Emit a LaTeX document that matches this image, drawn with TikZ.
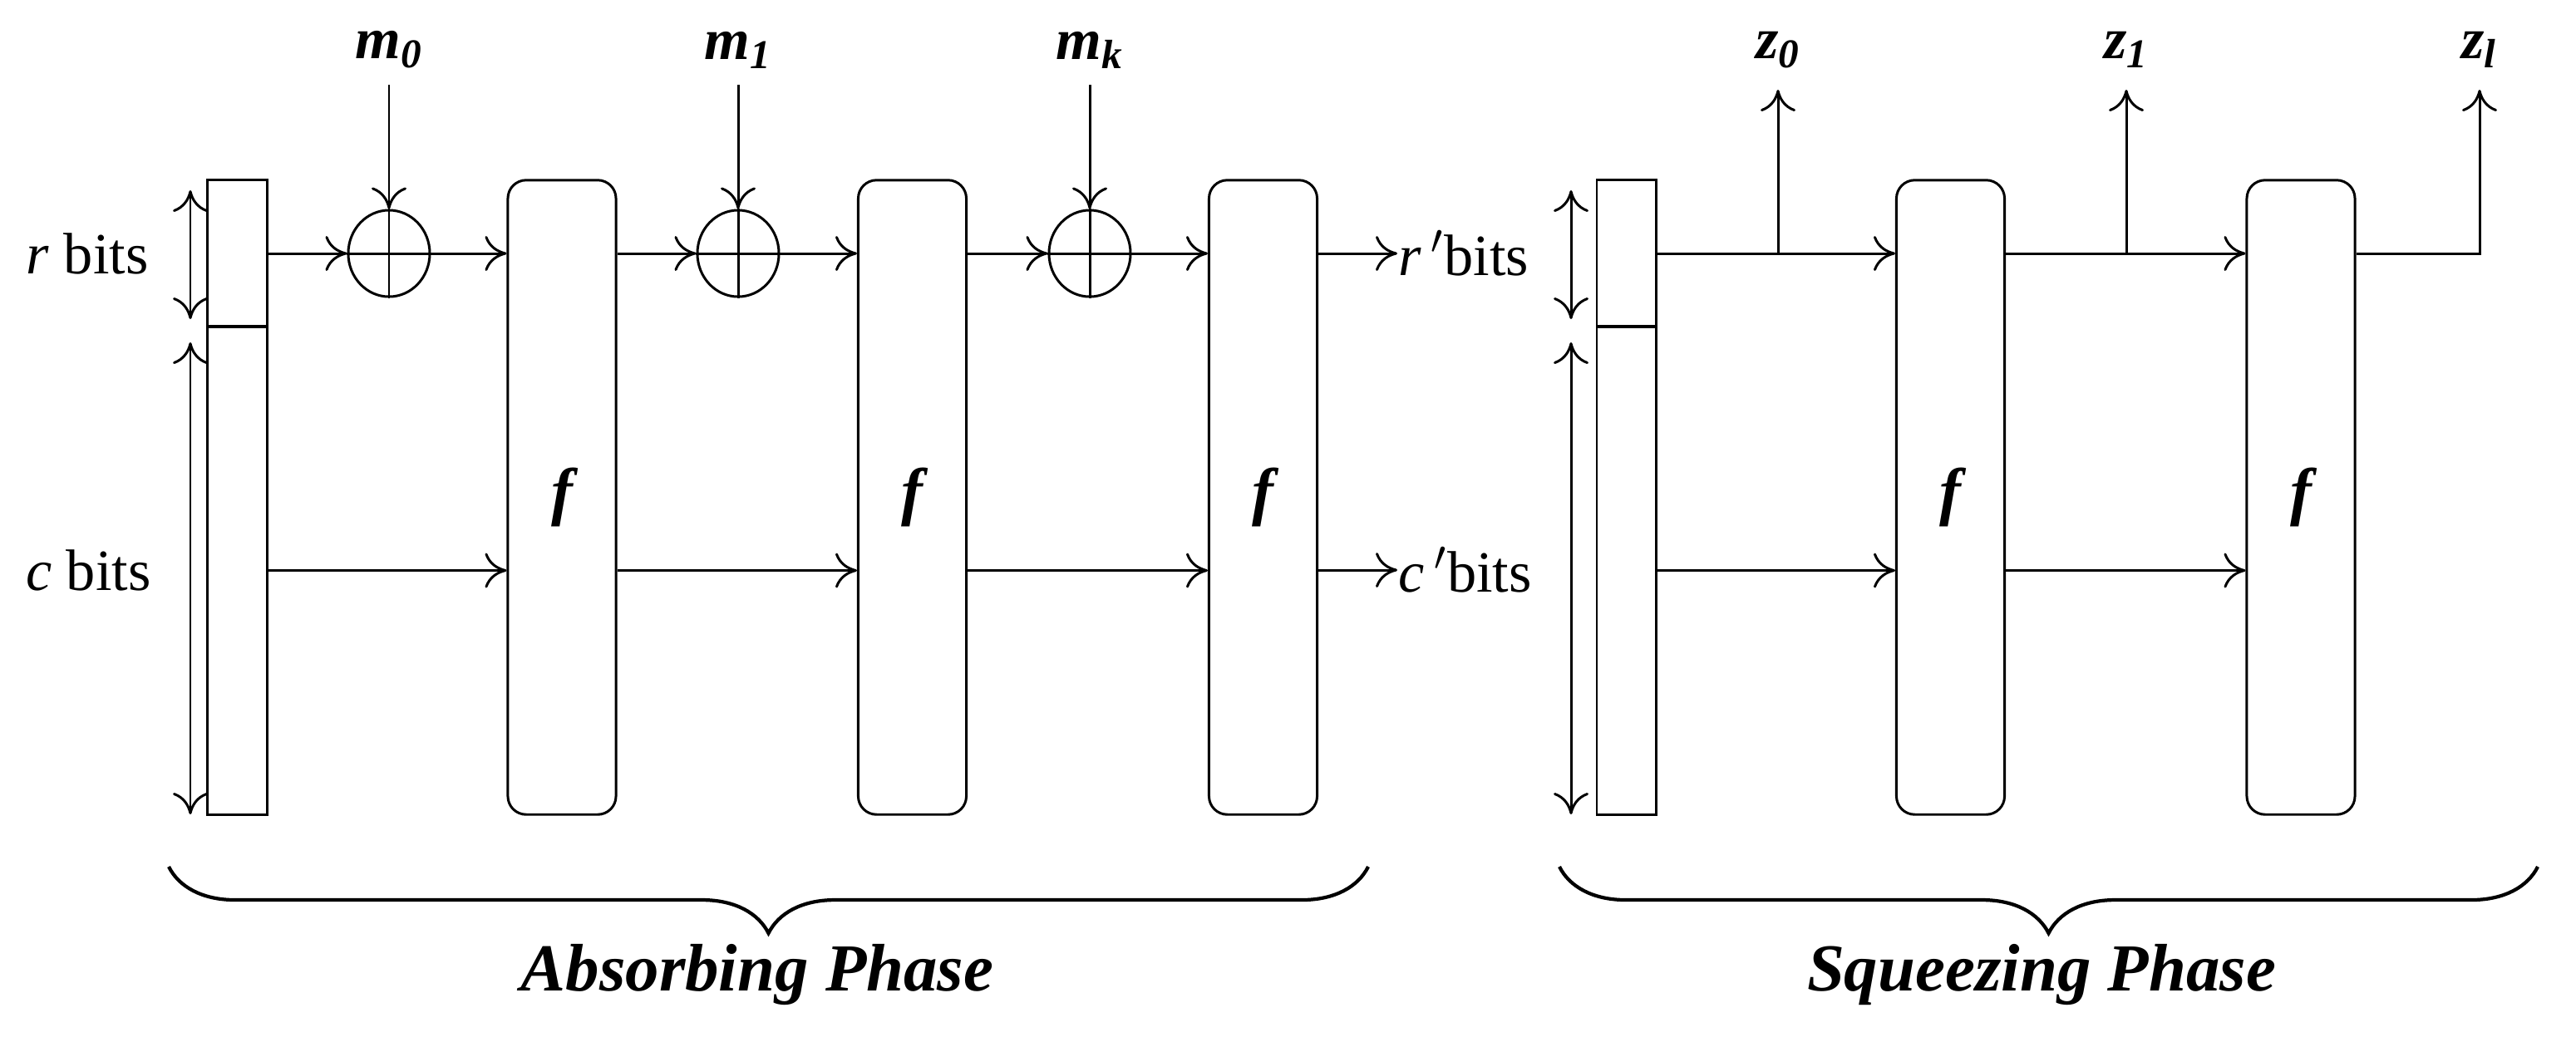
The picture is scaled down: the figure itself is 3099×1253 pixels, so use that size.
\documentclass[tikz,border=0pt]{standalone}
\usepackage{fontspec}
\setmainfont{Liberation Serif}
\usetikzlibrary{shapes.geometric,arrows.meta,decorations.pathreplacing}

\tikzset{
    every picture/.style={x=0.01cm, y=-0.01cm, line width=0.85pt, >={To[length=0.26cm,width=0.42cm]}},
    state/.style={draw, rectangle, inner sep=0, minimum width=0.71cm},
    perm/.style={draw, rectangle, rounded corners=0.22cm, inner sep=0, minimum width=1.3cm, minimum height=7.63cm, font=\fontsize{22}{26}\selectfont\bfseries\itshape},
    xor/.style={draw, ellipse, inner sep=0, minimum width=0.98cm, minimum height=1.04cm},
    lbl/.style={inner sep=0, font=\fontsize{20}{24}\selectfont},
    sym/.style={inner sep=0, font=\fontsize{20}{24}\selectfont\bfseries\itshape},
    phase/.style={inner sep=0, font=\fontsize{23}{28}\selectfont\bfseries\itshape},
    phasebrace/.style={decorate, decoration={brace, mirror, amplitude=0.8cm}, line width=1.2pt}
}

\begin{document}
\begin{tikzpicture}
    \useasboundingbox (0,0) rectangle (3099,1253);

    % absorbing phase
    \node[state, minimum height=1.76cm] (rs0) at (285.5,305) {};
    \node[state, minimum height=5.87cm] (cs0) at (285.5,686.5) {};
    \node[lbl, anchor=east] (rb) at (180,305) {\textit{r} bits};
    \node[lbl, anchor=east] (cb) at (183,686) {\textit{c} bits};
    \coordinate (ra) at (229,229); \coordinate (rb2) at (229,384);
    \coordinate (ca) at (229,412); \coordinate (cb2) at (229,980);
    \draw[<->] (ra) -- (rb2);
    \draw[<->] (ca) -- (cb2);

    \node[perm] (f1) at (676,598.5) {f};
    \node[perm] (f2) at (1097.5,598.5) {f};
    \node[perm] (f3) at (1519.5,598.5) {f};

    \node[xor] (x1) at (468,305) {};
    \node[xor] (x2) at (888,305) {};
    \node[xor] (x3) at (1311,305) {};
    \foreach \x in {x1,x2,x3}
        \draw (\x.north) -- (\x.south) (\x.west) -- (\x.east);

    \node[sym] (m0) at (468,60) {m\textsubscript{0}};
    \node[sym] (m1) at (888,60) {m\textsubscript{1}};
    \node[sym] (mk) at (1311,60) {m\textsubscript{k}};
    \coordinate (m0t) at (468,102);
    \coordinate (m1t) at (888,102);
    \coordinate (mkt) at (1311,102);
    \draw[->] (m0t) -- (x1.north);
    \draw[->] (m1t) -- (x2.north);
    \draw[->] (mkt) -- (x3.north);

    \draw[->] (rs0.east) -- (x1.west);
    \draw[->] (x1.east) -- (x1 -| f1.west);
    \draw[->] (x1 -| f1.east) -- (x2.west);
    \draw[->] (x2.east) -- (x2 -| f2.west);
    \draw[->] (x2 -| f2.east) -- (x3.west);
    \draw[->] (x3.east) -- (x3 -| f3.west);
    \draw[->] (cs0.east) -- (cs0 -| f1.west);
    \draw[->] (cs0 -| f1.east) -- (cs0 -| f2.west);
    \draw[->] (cs0 -| f2.east) -- (cs0 -| f3.west);

    \node[lbl, anchor=west] (rp) at (1681,305) {\textit{r}\,$'$bits};
    \node[lbl, anchor=west] (cp) at (1681,686) {\textit{c}\,$'$bits};
    \draw[->] (rp -| f3.east) -- (rp.west);
    \draw[->] (cp -| f3.east) -- (cp.west);

    % squeezing phase
    \node[state, minimum height=1.76cm] (rs1) at (1956.5,305) {};
    \node[state, minimum height=5.87cm] (cs1) at (1956.5,686.5) {};
    \coordinate (sra) at (1890,229); \coordinate (srb) at (1890,384);
    \coordinate (sca) at (1890,412); \coordinate (scb) at (1890,980);
    \draw[<->] (sra) -- (srb);
    \draw[<->] (sca) -- (scb);

    \node[perm] (g1) at (2346.5,598.5) {f};
    \node[perm] (g2) at (2768,598.5) {f};

    \coordinate (t0) at (2139,305);
    \coordinate (t1) at (2558,305);
    \coordinate (z0t) at (2139,108);
    \coordinate (z1t) at (2558,108);
    \coordinate (zlt) at (2983,108);
    \node[sym] (z0) at (2139,60) {z\textsubscript{0}};
    \node[sym] (z1) at (2558,60) {z\textsubscript{1}};
    \node[sym] (zl) at (2983,60) {z\textsubscript{l}};

    \draw[->] (rs1.east) -- (rs1 -| g1.west);
    \draw[->] (t0) -- (z0t);
    \draw[->] (rs1 -| g1.east) -- (rs1 -| g2.west);
    \draw[->] (t1) -- (z1t);
    \draw[->] (rs1 -| g2.east) -| (zlt);
    \draw[->] (cs1.east) -- (cs1 -| g1.west);
    \draw[->] (cs1 -| g1.east) -- (cs1 -| g2.west);

    % braces
    \coordinate (ba) at (203,1043); \coordinate (bb) at (1646,1043);
    \coordinate (sa) at (1876,1043); \coordinate (sb) at (3053,1043);
    \draw[phasebrace] (ba) -- (bb);
    \draw[phasebrace] (sa) -- (sb);
    \node[phase] (ap) at (911,1173) {Absorbing Phase};
    \node[phase] (sp) at (2456,1173) {Squeezing Phase};
\end{tikzpicture}
\end{document}
